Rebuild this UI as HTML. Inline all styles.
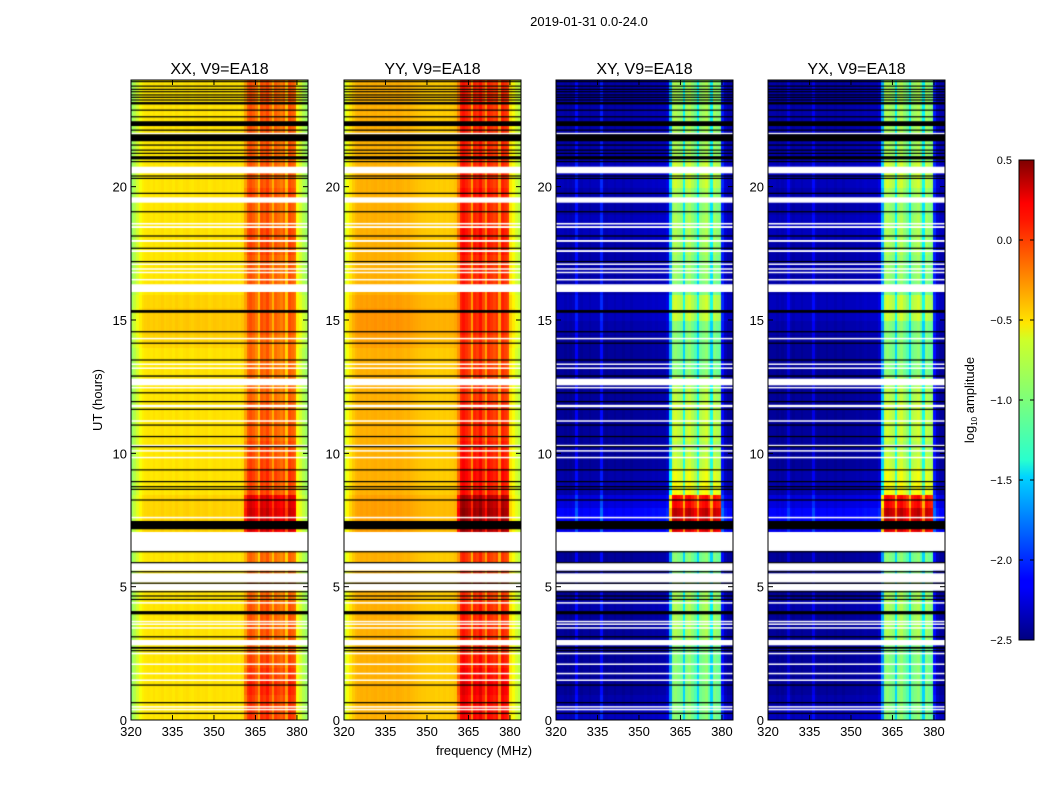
<!DOCTYPE html>
<html><head><meta charset="utf-8">
<style>
body{margin:0;background:#fff;width:1050px;height:800px;overflow:hidden;position:relative;font-family:"Liberation Sans",sans-serif;}
canvas{position:absolute;}
svg{position:absolute;left:0;top:0;}
</style></head>
<body>
<canvas id="c0" width="177" height="640" style="left:131px;top:80px"></canvas>
<canvas id="c1" width="177" height="640" style="left:344px;top:80px"></canvas>
<canvas id="c2" width="177" height="640" style="left:556px;top:80px"></canvas>
<canvas id="c3" width="177" height="640" style="left:768px;top:80px"></canvas>
<svg id="ax" width="1050" height="800">
<defs><linearGradient id="jet" x1="0" y1="1" x2="0" y2="0">
<stop offset="0" stop-color="#00007f"/><stop offset="0.11" stop-color="#0000ff"/><stop offset="0.125" stop-color="#0000ff"/><stop offset="0.34" stop-color="#00d4ff"/><stop offset="0.375" stop-color="#29ffce"/><stop offset="0.5" stop-color="#7dff7a"/><stop offset="0.625" stop-color="#ceff29"/><stop offset="0.66" stop-color="#ffe600"/><stop offset="0.875" stop-color="#ff1600"/><stop offset="0.91" stop-color="#ff0000"/><stop offset="1" stop-color="#7f0000"/></linearGradient></defs>
<text x="589" y="26" font-size="13" text-anchor="middle">2019-01-31 0.0-24.0</text>
<text x="484" y="755" font-size="13" text-anchor="middle">frequency (MHz)</text>
<text transform="translate(102,400) rotate(-90)" font-size="13" text-anchor="middle">UT (hours)</text>
<rect x="1019" y="160" width="15" height="480" fill="url(#jet)" stroke="#000" stroke-width="1"/>
<text transform="translate(974,400) rotate(-90)" font-size="13" text-anchor="middle">log<tspan font-size="8" dy="3">10</tspan><tspan dy="-3"> amplitude</tspan></text>
</svg>
<script>
const freqs=[];for(let f=320;f<384;f++)freqs.push(f);
const profXX=[-0.95,-0.85,-0.75,-0.65,-0.58,-0.56,-0.55,-0.56,-0.54,-0.56,-0.55,-0.53,-0.56,-0.55,-0.54,-0.56,-0.53,-0.55,-0.56,-0.54,-0.53,-0.55,-0.56,-0.54,-0.53,-0.55,-0.54,-0.53,-0.56,-0.55,-0.53,-0.54,-0.55,-0.53,-0.54,-0.55,-0.53,-0.54,-0.53,-0.55,-0.52,-0.4,-0.2,-0.15,-0.2,-0.28,-0.5,-0.15,-0.2,-0.12,-0.25,-0.45,-0.2,-0.25,-0.3,-0.22,-0.5,-0.15,-0.2,-0.25,-0.65,-0.75,-0.85,-0.92];
const profYY=[-0.8,-0.65,-0.55,-0.47,-0.42,-0.4,-0.39,-0.4,-0.38,-0.4,-0.39,-0.38,-0.4,-0.39,-0.38,-0.4,-0.38,-0.39,-0.4,-0.38,-0.39,-0.4,-0.41,-0.4,-0.42,-0.43,-0.44,-0.45,-0.46,-0.46,-0.47,-0.47,-0.47,-0.48,-0.47,-0.48,-0.47,-0.48,-0.47,-0.47,-0.44,-0.32,-0.02,0.03,-0.02,-0.08,-0.4,-0.02,-0.07,0.03,-0.12,-0.35,-0.02,-0.07,-0.12,-0.07,-0.4,-0.02,-0.07,-0.12,-0.55,-0.65,-0.75,-0.82];
const profXY=[-2.45,-2.42,-2.42,-2.45,-2.42,-2.45,-2.42,-2.15,-2.42,-2.45,-2.42,-2.42,-2.45,-2.42,-2.42,-2.42,-2.1,-2.42,-2.45,-2.42,-2.42,-2.45,-2.42,-2.42,-2.45,-2.42,-2.42,-2.45,-2.42,-2.42,-2.42,-2.42,-2.4,-2.42,-2.4,-2.38,-2.4,-2.38,-2.38,-2.38,-2.3,-1.7,-1.0,-0.95,-1.0,-1.05,-1.5,-1.0,-0.95,-1.05,-1.15,-1.5,-1.05,-1.0,-0.95,-1.1,-1.5,-1.0,-1.05,-1.1,-2.1,-2.35,-2.42,-2.42];
const profYX=[-2.45,-2.42,-2.42,-2.45,-2.42,-2.45,-2.42,-2.25,-2.42,-2.45,-2.42,-2.42,-2.45,-2.42,-2.42,-2.42,-2.2,-2.42,-2.45,-2.42,-2.42,-2.45,-2.42,-2.42,-2.45,-2.42,-2.42,-2.45,-2.42,-2.42,-2.42,-2.42,-2.4,-2.42,-2.4,-2.38,-2.4,-2.38,-2.38,-2.38,-2.3,-1.7,-1.0,-0.95,-1.0,-1.05,-1.5,-1.0,-0.95,-1.05,-1.15,-1.5,-1.05,-1.0,-0.95,-1.1,-1.5,-1.0,-1.05,-1.1,-2.1,-2.35,-2.42,-2.42];
const parBandGain=[0.15,0.15,0.2,0.15,0.1,0.05,0.05,0.05,0.05,0.0,0.0,0.0,0.0,0.0,0.4,0.45,0.4,0.1,0.15,0.1,0.1,0.05,0.05,0.05,0,0,0,0,0,0.05,0.05,0.05,0.05,0.05,0.05,0.1,0.1,0.05,0.05,0.1,0.05,0.05,0.05,0.05,0.05,0.05,0.05,0.05];
const parOffGain=[0,0,0,0,0,0,0,0,0,0,0,0,0,0,0.05,0.05,0.05,0,0,0,0,0,0,0,0,0,0,0,0.05,0.08,0.08,0.05,0,0,0,0,0,0,0,0,0,0,0,0,0,0,0,0];
const crossBandGain=[0,0,0,0,0,0,0.1,0.1,0.1,0.1,0.1,0,0,0,1.2,1.3,1.1,0.35,0.3,0.2,0.15,0.2,0.2,0.2,0.15,0.1,0,0,0,0,0.2,0.2,0,0.05,0.05,0.1,0.1,0.1,0.05,0.1,0.2,0.2,0.1,0.1,0.1,0.1,0.1,0.1];
const crossOffGain=[0.1,0.05,0,0,0,0,0,0,0.05,0,0,0,0,0,0.25,0.3,0.2,0.05,0.05,0,0,0,0,0,0,0,0,0,0,0.05,0.1,0.1,0.05,0.05,0.05,0.05,0.1,0.1,0.05,0.05,0.1,0.1,0.05,0.05,0.05,0.05,0.05,0.05];
const whiteIntervals=[[21.98,22.02],[20.5,20.75],[19.4,19.6],[18.45,18.52],[18.58,18.64],[17.93,18.0],[17.55,17.62],[17.08,17.12],[16.9,16.94],[16.77,16.81],[16.5,16.54],[16.05,16.34],[14.28,14.33],[13.33,13.37],[13.18,13.22],[12.55,12.8],[12.45,12.49],[11.73,11.82],[11.2,11.24],[10.28,10.32],[10.08,10.12],[9.83,9.87],[7.58,7.62],[6.34,7.05],[5.6,5.9],[5.15,5.5],[4.85,5.1],[4.38,4.42],[3.68,3.72],[3.58,3.62],[3.44,3.48],[2.8,3.0],[2.48,2.52],[2.08,2.12],[1.73,1.77],[1.48,1.52],[0.48,0.52],[0.38,0.42]];
const blackIntervals=[[23.94,23.94],[23.77,23.77],[23.65,23.65],[23.56,23.56],[23.44,23.44],[23.35,23.35],[23.25,23.25],[23.06,23.15],[22.87,22.87],[22.62,22.62],[22.25,22.43],[22.12,22.12],[21.68,21.94],[21.56,21.56],[21.37,21.37],[21.25,21.25],[21.0,21.12],[20.94,20.94],[20.4,20.4],[20.31,20.31],[19.75,19.75],[19.06,19.06],[18.15,18.15],[17.69,17.69],[17.19,17.19],[15.25,15.35],[14.56,14.56],[14.13,14.13],[13.5,13.5],[12.85,12.9],[12.27,12.27],[11.94,11.94],[11.65,11.65],[11.06,11.06],[10.63,10.63],[10.25,10.25],[9.38,9.38],[8.94,8.94],[8.75,8.75],[8.65,8.65],[8.25,8.25],[7.13,7.44],[6.31,6.31],[5.9,5.9],[5.56,5.56],[5.13,5.13],[4.81,4.81],[4.65,4.65],[4.52,4.52],[3.94,4.06],[3.12,3.12],[2.65,2.72],[2.6,2.6],[1.31,1.31],[0.65,0.65],[0.25,0.25]];
const xTicks=[320,335,350,365,380];
const yTicks=[0,5,10,15,20];
const cbTicks=[0.5,0.0,-0.5,-1.0,-1.5,-2.0,-2.5];
const titles=["XX, V9=EA18","YY, V9=EA18","XY, V9=EA18","YX, V9=EA18"];
const panelX=[131,344,556,768];
const W=177,H=640,TOP=80;
const FMIN=320,FMAX=384,HMIN=0,HMAX=24,VMIN=-2.5,VMAX=0.5;
function xs(f){return (f-FMIN)/(FMAX-FMIN)*W;}
function ys(h){return H-(h-HMIN)/(HMAX-HMIN)*H;}
function cbY(v){return 640-(v-VMIN)/(VMAX-VMIN)*480;}
function jet(v){let t=(v-VMIN)/(VMAX-VMIN);t=Math.max(0,Math.min(1,t));
 const c=x=>Math.round(255*Math.max(0,Math.min(1,x)));
 return `rgb(${c(1.5-Math.abs(4*t-3))},${c(1.5-Math.abs(4*t-2))},${c(1.5-Math.abs(4*t-1))})`;}
const profs=[profXX,profYY,profXY,profYX];
for(let p=0;p<4;p++){
 const ctx=document.getElementById('c'+p).getContext('2d');
 const cross=p>=2;const band=cross?crossBandGain:parBandGain;const off=cross?crossOffGain:parOffGain;
 for(let i=0;i<48;i++){
  const h0=i*0.5,h1=h0+0.5;
  for(let j=0;j<freqs.length;j++){
   const f=freqs[j];const inBand=f>=361&&f<380;
   const v=profs[p][j]+(inBand?band[i]:off[i]);
   ctx.fillStyle=jet(v);
   const x0=xs(f),x1=xs(f+1);
   ctx.fillRect(Math.floor(x0),Math.floor(ys(h1)),Math.ceil(x1-x0)+1,Math.ceil(ys(h0)-ys(h1))+1);
  }
 }
 ctx.fillStyle='#fff';
 whiteIntervals.forEach(w=>{ctx.fillRect(0,ys(w[1]),W,Math.max(1.5,ys(w[0])-ys(w[1])));});
 ctx.fillStyle='#000';
 blackIntervals.forEach(b=>{ctx.fillRect(0,ys(b[1])-0.6,W,Math.max(1.2,ys(b[0])-ys(b[1])));});
}
const svg=document.getElementById('ax');const NS='http://www.w3.org/2000/svg';
function mk(tag,attrs,parent){const e=document.createElementNS(NS,tag);for(const k in attrs)e.setAttribute(k,attrs[k]);(parent||svg).appendChild(e);return e;}
for(let p=0;p<4;p++){
 const g=mk('g',{});
 
 
 const X=panelX[p];
 const fr=mk('rect',{x:X,y:TOP,width:W,height:H,fill:'none',stroke:'#000','stroke-width':1},g);
 
 
 const t=mk('text',{x:X+W/2,y:74,'font-size':16,'text-anchor':'middle'},g);t.textContent=titles[p];
 
 
 xTicks.forEach(v=>{const x=X+xs(v);
  mk('line',{x1:x,x2:x,y1:TOP+H,y2:TOP+H-5,stroke:'#000'},g);
  mk('line',{x1:x,x2:x,y1:TOP,y2:TOP+5,stroke:'#000'},g);
  const l=mk('text',{x:x,y:736,'font-size':13,'text-anchor':'middle'},g);l.textContent=v;
  
  
 });
 yTicks.forEach(v=>{const y=TOP+ys(v);
  mk('line',{x1:X,x2:X+5,y1:y,y2:y,stroke:'#000'},g);
  mk('line',{x1:X+W,x2:X+W-5,y1:y,y2:y,stroke:'#000'},g);
  const l=mk('text',{x:X-4,y:y+5,'font-size':13,'text-anchor':'end'},g);l.textContent=v;
  
  
 });
}
cbTicks.forEach(v=>{const y=cbY(v);
 mk('line',{x1:1019,x2:1023,y1:y,y2:y,stroke:'#000'});
 mk('line',{x1:1030,x2:1034,y1:y,y2:y,stroke:'#000'});
 const l=mk('text',{x:1012,y:y+4,'font-size':11,'text-anchor':'end'});
 l.textContent=(v<0?'\u2212':'')+Math.abs(v).toFixed(1);
 
 
});
</script>
</body></html>
